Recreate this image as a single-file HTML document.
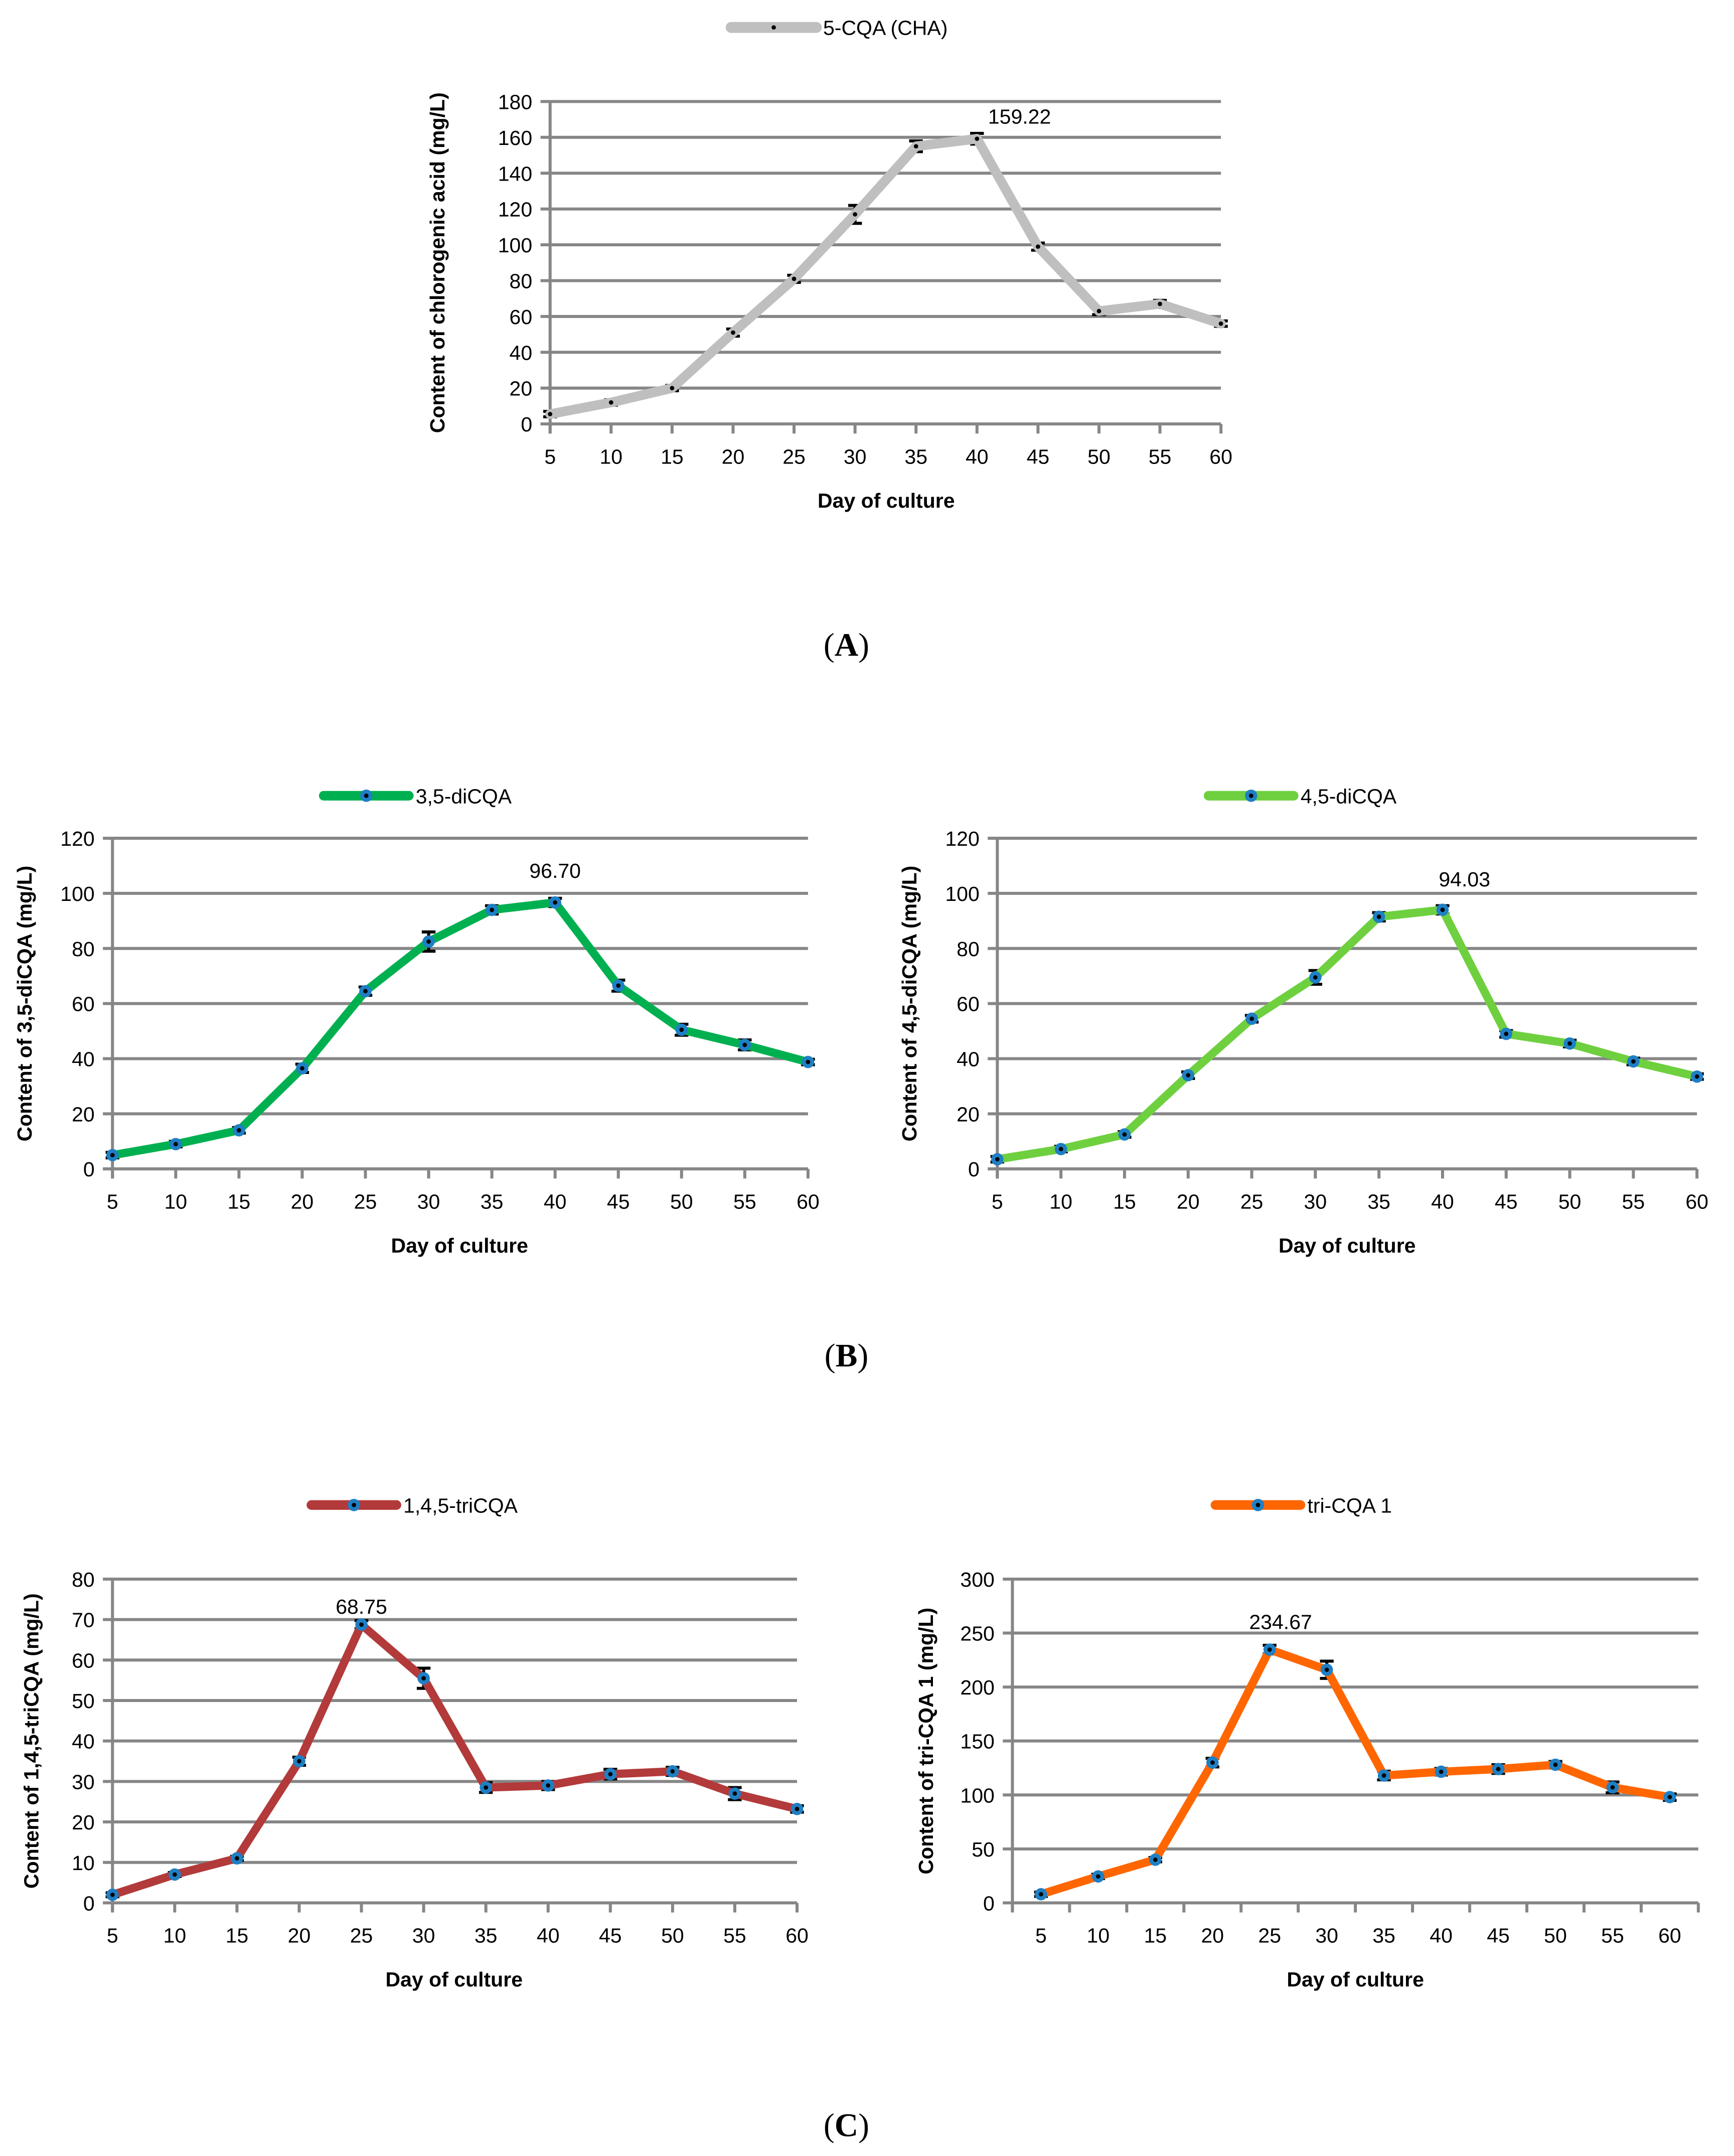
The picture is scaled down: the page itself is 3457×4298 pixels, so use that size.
<!DOCTYPE html>
<html><head><meta charset="utf-8"><style>
html,body{margin:0;padding:0;background:#fff}
svg{display:block}
text{font-family:"Liberation Sans",sans-serif}
</style></head><body>
<svg id="fig" width="3457" height="4298" viewBox="0 0 1264 1571.5" xmlns="http://www.w3.org/2000/svg">
<rect width="1264" height="1572" fill="#fff"/>
<text x="617" y="478" text-anchor="middle" style="font-family:'Liberation Serif',serif" font-size="24">(<tspan font-weight="bold">A</tspan>)</text>
<text x="617" y="996" text-anchor="middle" style="font-family:'Liberation Serif',serif" font-size="24">(<tspan font-weight="bold">B</tspan>)</text>
<text x="617" y="1557" text-anchor="middle" style="font-family:'Liberation Serif',serif" font-size="24">(<tspan font-weight="bold">C</tspan>)</text>
</svg>
<script>
const categories = [5,10,15,20,25,30,35,40,45,50,55,60];
const valuesA = [5.5,12,20,51,81,117,155,159.22,99,63,67,56];
const errorsA = [1.5,1.5,1.5,2,2,5,3,3,2,2,2,1.5];
const ticksA = [0,20,40,60,80,100,120,140,160,180];
const values35 = [5,9,14,36.5,64.5,82.5,94,96.7,66.5,50.5,45,38.8];
const errors35 = [1,1,1,1.5,1.5,3.5,1.5,1.5,2,2,1.8,1];
const ticks35 = [0,20,40,60,80,100,120];
const values45 = [3.5,7.2,12.5,34,54.5,69.5,91.5,94.03,49,45.5,39,33.5];
const errors45 = [1,1,1,1.2,1.2,2.5,1.5,1.5,1.2,1.2,1.2,1];
const ticks45 = [0,20,40,60,80,100,120];
const values145 = [2,7,11,35,68.75,55.5,28.5,29,31.8,32.5,27,23.2];
const errors145 = [0.5,0.5,0.5,1,1,2.5,1.2,1,1.2,1,1.5,0.8];
const ticks145 = [0,10,20,30,40,50,60,70,80];
const valuesTri = [8,24.5,40,130,234.67,216,118,121.5,124,128,107,98];
const errorsTri = [2,2,2,4,4,8,4,3,4,3,5,3];
const ticksTri = [0,50,100,150,200,250,300];

const NS='http://www.w3.org/2000/svg';
const svg=document.getElementById('fig');
function mk(tag,attrs,parent){const e=document.createElementNS(NS,tag);for(const k in attrs)e.setAttribute(k,attrs[k]);(parent||svg).appendChild(e);return e;}

function chart(o){
  const g=mk('g',{});
  
  
  const n=categories.length;
  const ymax=o.ticks[o.ticks.length-1];
  const yS=v=>o.y0-(v/ymax)*(o.y0-o.yTop);
  let xS, step;
  if(o.between){step=(o.xR-o.xL)/n;xS=i=>o.xL+step*(i+0.5);}
  else{step=(o.xR-o.xL)/(n-1);xS=i=>o.xL+step*i;}
  o.ticks.forEach(t=>{
    const l=mk('line',{x1:o.xL-7,x2:o.xR,y1:yS(t),y2:yS(t),stroke:'#868686','stroke-width':2.2},g);
    
    
    const tx=mk('text',{x:o.xL-13,y:yS(t)+5.5,'text-anchor':'end','font-size':15,fill:'#000'},g);
    tx.textContent=t;
    
    
  });
  const ax=mk('line',{x1:o.xL,x2:o.xL,y1:o.yTop,y2:o.y0+7,stroke:'#868686','stroke-width':2.2},g);
  
  
  const nt=o.between?n+1:n;
  for(let i=0;i<nt;i++){
    const x=o.between?o.xL+step*i:xS(i);
    mk('line',{x1:x,x2:x,y1:o.y0,y2:o.y0+7,stroke:'#868686','stroke-width':2.2},g);
  }
  categories.forEach((c,i)=>{
    const tx=mk('text',{x:xS(i),y:o.y0+29,'text-anchor':'middle','font-size':15},g);
    tx.textContent=c;
    
    
  });
  const xt=mk('text',{x:o.xTitleX,y:o.y0+61,'text-anchor':'middle','font-size':15,'font-weight':'bold'},g);
  xt.textContent='Day of culture';
  
  
  const yt=mk('text',{x:0,y:0,'text-anchor':'middle','font-size':15,'font-weight':'bold',transform:`translate(${o.yTitleX},${(o.y0+o.yTop)/2}) rotate(-90)`},g);
  yt.textContent=o.yTitle;
  
  
  o.vals.forEach((v,i)=>{
    const x=xS(i),e=o.errs[i];
    const eb=mk('path',{d:`M${x},${yS(v+e)}V${yS(v-e)}M${x-5},${yS(v+e)}H${x+5}M${x-5},${yS(v-e)}H${x+5}`,stroke:'#000','stroke-width':2.2,fill:'none'},g);
    
    
  });
  const pts=o.vals.map((v,i)=>xS(i)+','+yS(v)).join(' ');
  const pl=mk('polyline',{points:pts,fill:'none',stroke:o.color,'stroke-width':o.lw,'stroke-linejoin':'round','stroke-linecap':'round'},g);
  
  
  o.vals.forEach((v,i)=>{
    if(o.marker){const c=mk('circle',{cx:xS(i),cy:yS(v),r:4.5,fill:'#1f7fc4'},g);
      
      }
    mk('circle',{cx:xS(i),cy:yS(v),r:1.6,fill:'#000'},g);
  });
  const pk=o.vals.indexOf(Math.max(...o.vals));
  const lb=mk('text',{x:xS(pk)+o.lblDx,y:yS(o.vals[pk])+o.lblDy,'text-anchor':'middle','font-size':15},g);
  lb.textContent=o.vals[pk].toFixed(2);
  
  
  const lg=mk('g',{},g);
  
  
  mk('line',{x1:o.legX,x2:o.legX+62,y1:o.legY,y2:o.legY,stroke:o.color,'stroke-width':o.lw+1,'stroke-linecap':'round'},lg);
  if(o.marker)mk('circle',{cx:o.legX+31,cy:o.legY,r:4.5,fill:'#1f7fc4'},lg);
  mk('circle',{cx:o.legX+31,cy:o.legY,r:1.6,fill:'#000'},lg);
  const lt=mk('text',{x:o.legX+67,y:o.legY+5.5,'font-size':15},lg);
  lt.textContent=o.legend;
}

chart({name:'chart-5cqa',vals:valuesA,errs:errorsA,ticks:ticksA,xL:401,xR:890,y0:309,yTop:74,between:false,color:'#bfbfbf',lw:7,marker:false,
  yTitle:'Content  of chlorogenic acid (mg/L)',yTitleX:324,xTitleX:646,legX:533,legY:20,legend:'5-CQA (CHA)',lblDx:31,lblDy:-11});
chart({name:'chart-35dicqa',vals:values35,errs:errors35,ticks:ticks35,xL:82,xR:589,y0:852,yTop:611,between:false,color:'#00b050',lw:6,marker:true,
  yTitle:'Content of 3,5-diCQA (mg/L)',yTitleX:23,xTitleX:335,legX:236,legY:580,legend:'3,5-diCQA',lblDx:0,lblDy:-18});
chart({name:'chart-45dicqa',vals:values45,errs:errors45,ticks:ticks45,xL:727,xR:1237,y0:852,yTop:611,between:false,color:'#6ed03f',lw:6,marker:true,
  yTitle:'Content of 4,5-diCQA (mg/L)',yTitleX:668,xTitleX:982,legX:881,legY:580,legend:'4,5-diCQA',lblDx:16,lblDy:-17});
chart({name:'chart-145tricqa',vals:values145,errs:errors145,ticks:ticks145,xL:82,xR:581,y0:1387,yTop:1151,between:false,color:'#b33a3a',lw:6,marker:true,
  yTitle:'Content of 1,4,5-triCQA (mg/L)',yTitleX:28,xTitleX:331,legX:227,legY:1097,legend:'1,4,5-triCQA',lblDx:0,lblDy:-8});
chart({name:'chart-tricqa1',vals:valuesTri,errs:errorsTri,ticks:ticksTri,xL:738,xR:1238,y0:1387,yTop:1151,between:true,color:'#ff6600',lw:6,marker:true,
  yTitle:'Content of tri-CQA 1 (mg/L)',yTitleX:680,xTitleX:988,legX:886,legY:1097,legend:'tri-CQA 1',lblDx:8,lblDy:-15});
</script>
</body></html>
